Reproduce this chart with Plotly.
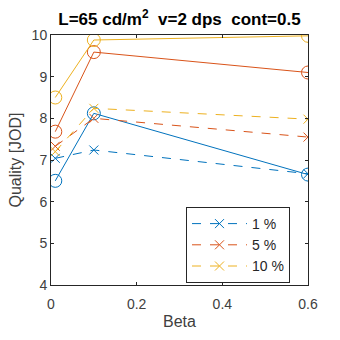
import plotly.graph_objects as go

beta = [0.01, 0.1, 0.6]
labels = ["1 %", "5 %", "10 %"]
colors = ["#0072BD", "#D95319", "#EDB120"]
# dashed series (x markers)
dashed_vals = [
    [7.04, 7.24, 6.67],
    [7.33, 8.00, 7.55],
    [7.20, 8.24, 7.98],
]
# solid series (circle markers)
solid_vals = [
    [6.50, 8.12, 6.65],
    [7.68, 9.59, 9.10],
    [8.50, 9.88, 9.98],
]

fig = go.Figure()
for lab, c, yv in zip(labels, colors, solid_vals):
    fig.add_trace(go.Scatter(x=beta, y=yv, mode="lines+markers", showlegend=False,
                             line=dict(color=c, width=1),
                             marker=dict(symbol="circle-open", size=13, color=c, line=dict(width=1, color=c))))
for lab, c, yv in zip(labels, colors, dashed_vals):
    fig.add_trace(go.Scatter(x=beta, y=yv, mode="lines+markers", name=lab,
                             line=dict(color=c, width=1, dash="dash"),
                             marker=dict(symbol="x-thin-open", size=9, color=c, line=dict(width=1, color=c))))

axis_common = dict(showline=True, mirror="ticks", linecolor="#262626", linewidth=1,
                   ticks="inside", ticklen=3, tickcolor="#262626", showgrid=False, zeroline=False,
                   tickfont=dict(size=14, color="#404040"))
fig.update_xaxes(range=[0, 0.6], tickvals=[0, 0.2, 0.4, 0.6], ticktext=["0", "0.2", "0.4", "0.6"],
                 ticklabelstandoff=6,
                 title=dict(text="Beta", font=dict(size=16, color="#404040"), standoff=5), **axis_common)
fig.update_yaxes(range=[4, 10], tickvals=[4, 5, 6, 7, 8, 9, 10],
                 title=dict(text="Quality [JOD]", font=dict(size=16, color="#404040"), standoff=6), **axis_common)

fig.update_layout(
    width=340, height=340,
    margin=dict(l=51, r=32, t=35, b=53),
    paper_bgcolor="white", plot_bgcolor="white",
    font=dict(family="Liberation Sans, Arial, sans-serif"),
    title=dict(text="<b>L=65 cd/m<sup>2</sup>\u00a0 v=2 dps\u00a0 cont=0.5</b>", x=0.5, xref="paper",
               y=0.945, yanchor="middle", font=dict(size=17, color="black")),
    legend=dict(x=0.93, y=0.008, xanchor="right", yanchor="bottom", bgcolor="white",
                bordercolor="#262626", borderwidth=1, font=dict(size=14, color="#262626"),
                itemwidth=55, tracegroupgap=0),
)
fig.write_html("out.html")
